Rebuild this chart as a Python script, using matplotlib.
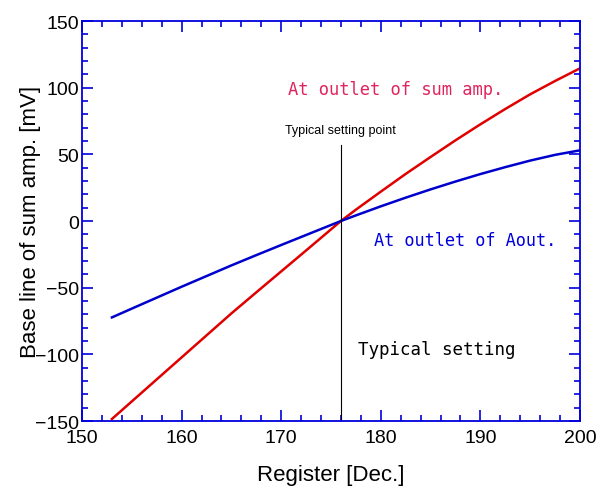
import matplotlib
matplotlib.use("Agg")
import matplotlib.pyplot as plt
from matplotlib.ticker import MultipleLocator

# register setting vs. base line [mV]
register = [153, 155, 157.5, 160, 162.5, 165, 167.5, 170, 172.5, 175, 176,
            177.5, 180, 182.5, 185, 187.5, 190, 192.5, 195, 197.5, 200]
sum_amp = [-148.5, -135.3, -118.8, -102.3, -85.8, -69.3, -53.5, -37.8, -22.1, -6.3, 0,
           8.5, 22, 35.3, 48, 60.5, 72.5, 84, 95, 105, 114.5]
aout = [-72.3, -65.7, -57.5, -49.3, -41.3, -33.3, -25.6, -18, -10.5, -3, 0,
        4.2, 11, 17.5, 23.7, 29.6, 35.2, 40.4, 45.3, 49.6, 53]

typical_x = 176
typical_top = 57

plt.rcParams['font.family'] = ['Liberation Sans', 'DejaVu Sans']

fig = plt.figure(figsize=(5.97, 4.89), dpi=100)
ax = fig.add_axes([0.1374, 0.137, 0.834, 0.818])

ax.plot(register, sum_amp, color='#e00000', lw=1.8)
ax.plot(register, aout, color='#0000cc', lw=1.8)
ax.plot([typical_x, typical_x], [-150, typical_top], color='black', lw=0.8)

mono = 'DejaVu Sans Mono'
ax.text(170.7, 99, 'At outlet of sum amp.', color='#e0245e', fontsize=12.3,
        family=mono, va='center')
ax.text(179.3, -14, 'At outlet of Aout.', color='#0000dd', fontsize=12.2,
        family=mono, va='center')
ax.text(177.7, -96, 'Typical setting', color='black', fontsize=12.6,
        family=mono, va='center')
ax.text(176, 64, 'Typical setting point', color='black', fontsize=9,
        ha='center', va='bottom')

ax.set_xlim(150, 200)
ax.set_ylim(-150, 150)
ax.xaxis.set_major_locator(MultipleLocator(10))
ax.xaxis.set_minor_locator(MultipleLocator(2))
ax.yaxis.set_major_locator(MultipleLocator(50))
ax.yaxis.set_minor_locator(MultipleLocator(10))
ax.tick_params(which='both', direction='in', top=True, right=True,
               color='#0000dd', labelsize=14)
ax.tick_params(which='major', length=8, width=1.2)
ax.tick_params(which='minor', length=4.5, width=1.2)
ax.tick_params(axis='y', pad=2)
ax.tick_params(axis='x', pad=6)
for s in ax.spines.values():
    s.set_color('#0000dd')
    s.set_linewidth(1.3)

ax.set_xlabel('Register [Dec.]', fontsize=16, labelpad=13)
ax.set_ylabel('Base line of sum amp. [mV]', fontsize=16, labelpad=-4)

fig.savefig('out.png', dpi=100)
